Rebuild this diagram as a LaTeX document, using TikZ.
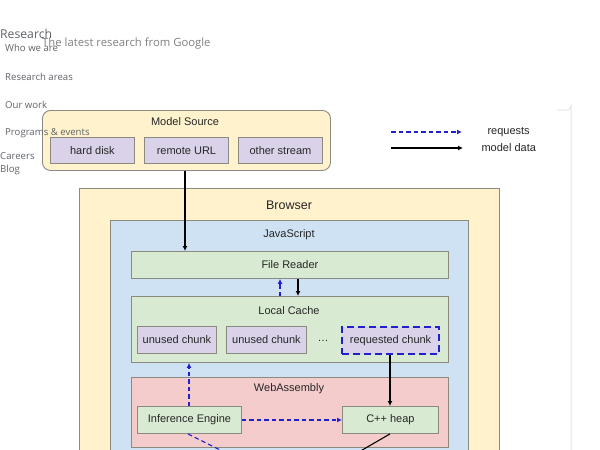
\documentclass[tikz,border=0pt]{standalone}
\usepackage{fontspec}
\setmainfont{Liberation Sans}
\newfontfamily\webfont{Open Sans}
\usetikzlibrary{arrows.meta}
\definecolor{ylw}{HTML}{FFF2CC}
\definecolor{lav}{HTML}{D9D2E9}
\definecolor{jsb}{HTML}{CFE2F3}
\definecolor{grn}{HTML}{D9EAD3}
\definecolor{wred}{HTML}{F4CCCC}
\definecolor{bord}{HTML}{8A8A80}
\definecolor{dblue}{HTML}{2020CC}
\definecolor{navgray}{HTML}{5F6368}
\tikzset{
  box/.style={draw=bord, line width=0.9pt, anchor=north west, inner sep=0pt},
  lbl/.style={font=\fontsize{11}{13}\selectfont, text=black!85},
  reqarrow/.style={dblue, dashed, dash pattern=on 4.5pt off 3pt, line width=1.1pt, -{Latex[length=5pt,width=5pt]}},
  dataarrow/.style={black, line width=1.1pt, -{Latex[length=5pt,width=5pt]}},
  nav/.style={anchor=west, inner sep=0pt, text=navgray, font=\webfont\fontsize{9.6}{11}\selectfont},
}
\begin{document}
\begin{tikzpicture}[x=1pt,y=-1pt]
\useasboundingbox (0,0) rectangle (600,450);
\fill[white] (0,0) rectangle (600,450);
\clip (0,0) rectangle (600,450);
% right panel edge
\draw[black!10, line width=1pt] (557,110) -- (567,110) arc[start angle=90,end angle=0,radius=4] -- (571,450);
% Model Source
\node[box, fill=ylw, rounded corners=8pt, minimum width=288, minimum height=60] (ms) at (42,110) {};
\node[lbl] (mst) at (185,122) {Model Source};
\node[box, fill=lav, minimum width=84, minimum height=26] (hd) at (50,137) {};
\node[lbl] at (hd.center) {hard disk};
\node[box, fill=lav, minimum width=84, minimum height=26] (ru) at (144,137) {};
\node[lbl] at (ru.center) {remote URL};
\node[box, fill=lav, minimum width=84, minimum height=26] (os) at (238,137) {};
\node[lbl] at (os.center) {other stream};
% Legend
\coordinate (l1a) at (391,132); \coordinate (l1b) at (462,132);
\coordinate (l2a) at (391,148); \coordinate (l2b) at (463,148);
\draw[reqarrow] (l1a) -- (l1b);
\draw[dataarrow] (l2a) -- (l2b);
\node[lbl, anchor=west] (lreq) at (484,132) {requests};
\node[lbl, anchor=west] (ldat) at (478,148) {model data};
% Browser
\node[box, fill=ylw, minimum width=420, minimum height=280] (br) at (79,188) {};
\node[lbl, font=\fontsize{12.5}{14}\selectfont] at (289,205) {Browser};
\node[box, fill=jsb, minimum width=358, minimum height=260] (js) at (110,220) {};
\node[lbl] at (289,235) {JavaScript};
\node[box, fill=grn, minimum width=317, minimum height=27] (fr) at (131,251) {};
\node[lbl] at (fr.center) {File Reader};
\node[box, fill=grn, minimum width=317, minimum height=66] (lc) at (131,296) {};
\node[lbl] at (289,311) {Local Cache};
\node[box, fill=lav, minimum width=79, minimum height=27] (u1) at (137,326) {};
\node[lbl] at (u1.center) {unused chunk};
\node[box, fill=lav, minimum width=80, minimum height=27] (u2) at (226,326) {};
\node[lbl] at (u2.center) {unused chunk};
\node[lbl] (dots) at (323,341) {\dots};
\node[box, fill=lav, draw=dblue, dashed, dash pattern=on 7pt off 4pt, line width=2.2pt, minimum width=97, minimum height=27] (rc) at (341,326) {};
\node[lbl] at (rc.center) {requested chunk};
\node[box, fill=wred, minimum width=317, minimum height=70] (wa) at (131,377) {};
\node[lbl] at (289,389) {WebAssembly};
\node[box, fill=grn, minimum width=104, minimum height=27] (ie) at (137,406) {};
\node[lbl] at (ie.center) {Inference Engine};
\node[box, fill=grn, minimum width=96, minimum height=27] (ch) at (342,406) {};
\node[lbl] at (ch.center) {C++ heap};
% connectors
\draw[dataarrow] (ms.south -| 185,0) -- (fr.north -| 185,0);
\draw[reqarrow] (lc.north -| 280,0) -- (fr.south -| 280,0);
\draw[dataarrow] (fr.south -| 298,0) -- (lc.north -| 298,0);
\draw[reqarrow] (ie.north -| 189,0) -- (lc.south -| 189,0);
\draw[dataarrow] (rc.south -| 390,0) -- (ch.north -| 390,0);
\draw[reqarrow] (ie.east) -- (ch.west);
\coordinate (ieout) at (240,460);
\coordinate (chout) at (345,460);
\draw[dblue, dashed, dash pattern=on 4.5pt off 3pt, line width=1.1pt] (ie.south -| 188,0) -- (ieout);
\draw[black, line width=1.1pt] (ch.south -| 390,0) -- (chout);
% web page text
\node[anchor=west, inner sep=0pt, text=navgray, font=\webfont\fontsize{12.2}{14}\selectfont] (rs) at (0,34) {Research};
\node[anchor=west, inner sep=0pt, text=black!50, font=\webfont\fontsize{11.3}{13}\selectfont] (lat) at (42,44) {The latest research from Google};
\node[nav] (n1) at (5,48) {Who we are};
\node[nav] (n2) at (5,77) {Research areas};
\node[nav] (n3) at (5,105) {Our work};
\node[nav] (n4) at (5,133) {Programs \& events};
\node[nav] (n5) at (0,156) {Careers};
\node[nav] (n6) at (0,170) {Blog};
\end{tikzpicture}
\end{document}
